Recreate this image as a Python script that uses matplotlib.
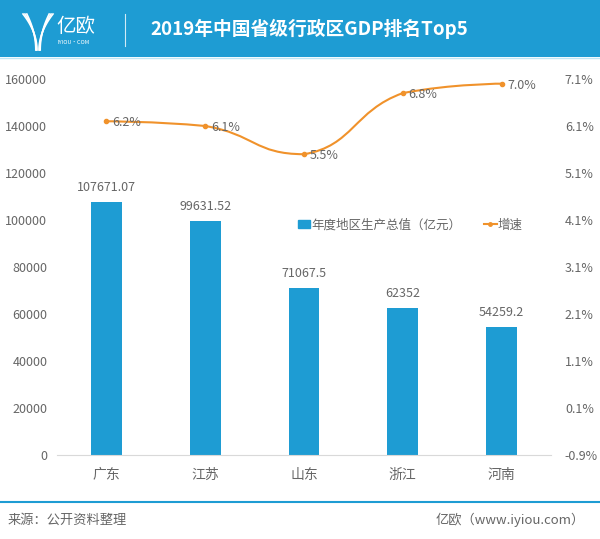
import numpy as np
import matplotlib
matplotlib.use('Agg')
import matplotlib.pyplot as plt
from matplotlib.path import Path
from matplotlib.patches import PathPatch, Rectangle

plt.rcParams['font.family'] = ['Noto Sans CJK SC', 'DejaVu Sans']

# data
provinces = ['广东', '江苏', '山东', '浙江', '河南']
gdp = [107671.07, 99631.52, 71067.5, 62352, 54259.2]
gdp_labels = ['107671.07', '99631.52', '71067.5', '62352', '54259.2']
growth = [6.2, 6.1, 5.5, 6.8, 7.0]
left_ticks = [0, 20000, 40000, 60000, 80000, 100000, 120000, 140000, 160000]
right_ticks = [-0.9, 0.1, 1.1, 2.1, 3.1, 4.1, 5.1, 6.1, 7.1]

blue = '#1e9cd3'
orange = '#f0922b'
gray = '#666666'

W, H = 600, 539
fig = plt.figure(figsize=(6, 5.39), dpi=100)

ax = fig.add_axes([57 / W, (H - 455) / H, 494 / W, 376 / H])
x = np.arange(len(provinces))
ax.bar(x, gdp, width=0.31, color=blue, zorder=2)
for xi, v, lab in zip(x, gdp, gdp_labels):
    ax.annotate(lab, (xi, v), xytext=(0, 6), textcoords='offset points',
                ha='center', va='bottom', fontsize=9, color=gray)
ax.set_xlim(-0.5, 4.5)
ax.set_ylim(0, 160000)
ax.set_yticks(left_ticks)
ax.set_yticklabels([str(t) for t in left_ticks])
ax.set_xticks(x)
ax.set_xticklabels(provinces)
ax.tick_params(axis='y', length=0, pad=7, labelsize=9, labelcolor=gray)
ax.tick_params(axis='x', length=0, pad=9, labelsize=10, labelcolor=gray)
for s in ['top', 'right', 'left']:
    ax.spines[s].set_visible(False)
ax.spines['bottom'].set_color('#d9d9d9')

ax2 = ax.twinx()
ax2.set_ylim(-0.9, 7.1)
ax2.set_yticks(right_ticks)
ax2.set_yticklabels(['%.1f%%' % t for t in right_ticks])
ax2.tick_params(axis='y', length=0, pad=10, labelsize=9, labelcolor=gray)
for s in ax2.spines.values():
    s.set_visible(False)

# smooth curve through the growth points (bezier, control points kept
# inside each segment's y-range so the curve does not overshoot)
pts = np.column_stack([x, growth]).astype(float)
n = len(pts)
verts = [tuple(pts[0])]
codes = [Path.MOVETO]
for i in range(n - 1):
    p0 = pts[i - 1] if i > 0 else pts[i]
    p1 = pts[i]
    p2 = pts[i + 1]
    p3 = pts[i + 2] if i + 2 < n else pts[i + 1]
    c1 = p1 + (p2 - p0) * 0.25 if i > 0 else p1.copy()
    c2 = p2 - (p3 - p1) * 0.25 if i + 2 < n else p2.copy()
    lo, hi = min(p1[1], p2[1]), max(p1[1], p2[1])
    c1[1] = np.clip(c1[1], lo, hi)
    c2[1] = np.clip(c2[1], lo, hi)
    verts += [tuple(c1), tuple(c2), tuple(p2)]
    codes += [Path.CURVE4] * 3
ax2.add_patch(PathPatch(Path(verts, codes), fill=False, edgecolor=orange, lw=1.5, zorder=3))
ax2.plot(x, growth, 'o', color=orange, ms=3, zorder=4)
for xi, g in zip(x, growth):
    ax2.annotate('%.1f%%' % g, (xi, g), xytext=(4, -1), textcoords='offset points',
                 ha='left', va='center', fontsize=9, color=gray, zorder=5)

# legend
ax.legend([Rectangle((0, 0), 1, 1, color=blue),
           plt.Line2D([], [], color=orange, lw=1.5, marker='o', ms=2.5)],
          ['年度地区生产总值（亿元）', '增速'], ncol=2, frameon=False,
          loc='center left', bbox_to_anchor=(0.465, (455 - 225) / 376),
          fontsize=9, labelcolor=gray, handlelength=1.0, handleheight=0.6,
          handletextpad=0.1, columnspacing=1.8)

# decorations: header, footer
deco = fig.add_axes([0, 0, 1, 1], zorder=-1)
deco.set_xlim(0, W)
deco.set_ylim(H, 0)
deco.axis('off')
deco.add_patch(Rectangle((0, 0), W, 57, color=blue, lw=0))
deco.plot([0, W], [58, 58], color='#bfe6f5', lw=1)
deco.plot([125, 125], [14, 46], color='white', lw=0.8, alpha=0.8)
# logo icon
t = np.linspace(0, 1, 30)
for k in range(3):
    deco.plot(37 - 0.6 * k - (14 - 2.5 * k) * t ** 2, 50 - 36 * t, color='white', lw=1.2)
    deco.plot(39 + 0.6 * k + (14 - 2.5 * k) * t ** 2, 50 - 36 * t, color='white', lw=1.2)
deco.text(56, 27, '亿欧', color='white', fontsize=14, va='center', ha='left')
deco.text(57, 43, 'IYIOU·COM', color='white', fontsize=4, va='center', ha='left')
deco.text(150, 29, '2019年中国省级行政区GDP排名Top5', color='white', fontsize=13.5,
          fontweight='bold', va='center', ha='left')
deco.plot([0, W], [502, 502], color=blue, lw=1.5)
deco.text(8, 520, '来源：公开资料整理', color=gray, fontsize=9.5, va='center', ha='left')
deco.text(585, 520, '亿欧（www.iyiou.com）', color=gray, fontsize=9.5, va='center', ha='right')

fig.savefig('out.png', dpi=100)
